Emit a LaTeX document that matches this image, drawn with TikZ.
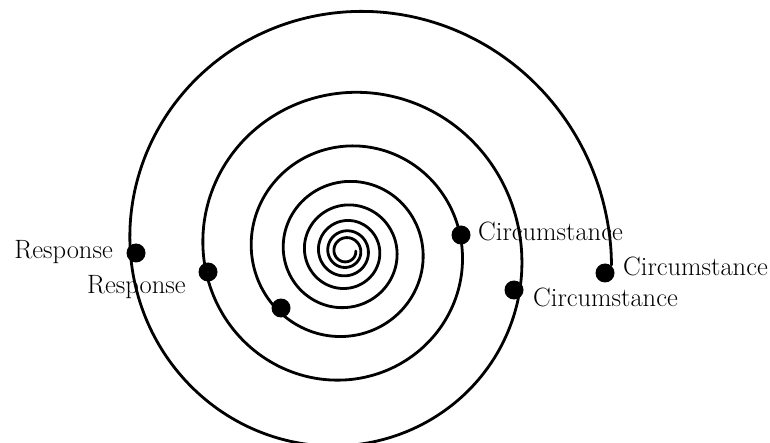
\documentclass[tikz,border=0pt]{standalone}
\usepackage{fontspec}
\begin{document}
\begin{tikzpicture}[x=1pt,y=-1pt,
  spiralline/.style={line width=2.8pt,line join=round,line cap=round},
  evdot/.style={circle,fill=black,inner sep=0pt,minimum size=19pt},
  lbl/.style={inner sep=0pt,font=\fontsize{26.5}{30}\selectfont}]
\useasboundingbox (0,0) rectangle (770,443);
\fill[white] (0,0) rectangle (770,443);
% logarithmic spiral, centre (346,251)
\draw[spiralline] plot[smooth,samples=900,domain=-3:2880,variable=\t]
  ({346+265*exp(-0.00115*\t)*cos(\t)},{251-265*exp(-0.00115*\t)*sin(\t)});
% dots
\node[evdot] (r1) at (136,253) {};
\node[evdot] (r2) at (208,272) {};
\node[evdot] (d3) at (281,308) {};
\node[evdot] (c1) at (461,235) {};
\node[evdot] (c2) at (514,290) {};
\node[evdot] (c3) at (605,273) {};
% labels
\node[lbl,anchor=base east] (lr1) at (113,259) {Response};
\node[lbl,anchor=base west] (lr2) at (87,294) {Response};
\node[lbl,anchor=base west] (lc1) at (478,241) {Circumstance};
\node[lbl,anchor=base west] (lc3) at (623,276) {Circumstance};
\node[lbl,anchor=base west] (lc2) at (533,306) {Circumstance};
\end{tikzpicture}
\end{document}
